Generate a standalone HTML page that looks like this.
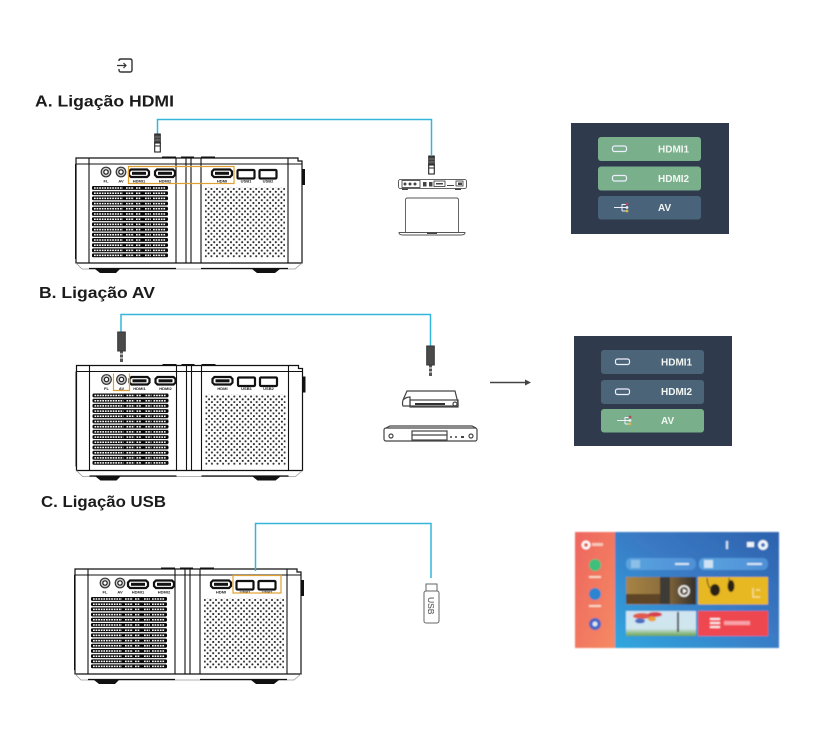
<!DOCTYPE html>
<html><head><meta charset="utf-8"><style>
html,body{margin:0;padding:0;background:#fff;width:822px;height:737px;overflow:hidden}
svg{display:block}
.h{font-family:"Liberation Sans",sans-serif;font-weight:700;font-size:16px;fill:#1b1b1b}
.b{font-family:"Liberation Sans",sans-serif;font-weight:700;font-size:10px;fill:#f2f6f3}
.p{font-family:"Liberation Sans",sans-serif;font-weight:700;font-size:4px;fill:#222;text-anchor:middle}
</style></head><body>
<svg width="822" height="737" viewBox="0 0 822 737" xmlns="http://www.w3.org/2000/svg">
<defs>
<pattern id="dots" width="5.6" height="5.6" patternUnits="userSpaceOnUse">
<circle cx="1.4" cy="1.4" r="1.05" fill="#222"/><circle cx="4.2" cy="4.2" r="1.05" fill="#333"/>
</pattern>
<g id="vent"><rect x="92" y="0" width="76" height="3.9" rx="1.2" fill="#0c0c0c"/>
<path d="M94 2H123M126 2H134M136 2H141M145 2H151M153 2H166" stroke="#fff" stroke-width="1.5" stroke-dasharray="1.7 .9" fill="none"/></g>
<g id="hd"><path d="M-8 -3.500H8L10 -1.500V2L8 4H-8L-10 2V-1.500Z" fill="#fff" stroke="#111" stroke-width="2.200"/><rect x="-7" y="-1.200" width="14" height="3" fill="#111"/></g>
<g id="us"><rect x="-8.500" y="-4" width="17" height="8.500" rx="1" fill="#fff" stroke="#111" stroke-width="2.200"/></g>
<g id="au"><circle r="4.800" fill="#ccc" stroke="#333" stroke-width="1.200"/><circle r="2.200" fill="#fff" stroke="#222" stroke-width="1.200"/></g>
<g id="proj">
<rect x="75" y="164" width="2" height="95" fill="#111"/>
<rect x="76" y="158" width="226" height="105" fill="#fff"/>
<path d="M76 158H298V161H302V263H76Z" fill="none" stroke="#111" stroke-width="1.200"/>
<path d="M76 164H302" stroke="#111" stroke-width="1"/>
<path d="M89 158V263M176 158V263M186 158V263M191 158V263M201 158V263M288 158V263" stroke="#111" stroke-width="1.100"/>
<path d="M76 263L82 269H295L302 263" fill="none" stroke="#999" stroke-width=".8"/>
<path d="M89 268.500H176M201 268.500H288" stroke="#111" stroke-width="1.300"/>
<path d="M95 269H120L116 273H100ZM252 269H280L275 273H257Z" fill="#111"/>
<rect x="162" y="156.500" width="14" height="2" fill="#111"/><rect x="181" y="156.500" width="13" height="2" fill="#111"/><rect x="201" y="156.500" width="14" height="2" fill="#111"/>
<rect x="302" y="169" width="3" height="16" fill="#111"/>
<use href="#au" x="106" y="172"/><use href="#au" x="121" y="172"/>
<use href="#hd" x="139" y="173"/><use href="#hd" x="165" y="173"/><use href="#hd" x="222" y="173"/>
<use href="#us" x="246" y="174"/><use href="#us" x="268" y="174"/>
<text class="p" x="106" y="182.500">FL</text><text class="p" x="121" y="182.500">AV</text>
<text class="p" x="139" y="182.500">HDMI1</text><text class="p" x="165" y="182.500">HDMI2</text><text class="p" x="222" y="182.500">HDMI</text>
<text class="p" x="246" y="182.500">USB1</text><text class="p" x="268" y="182.500">USB2</text>
<use href="#vent" y="186"/><use href="#vent" y="191.200"/><use href="#vent" y="196.400"/><use href="#vent" y="201.600"/><use href="#vent" y="206.800"/><use href="#vent" y="212"/><use href="#vent" y="217.200"/><use href="#vent" y="222.400"/><use href="#vent" y="227.600"/><use href="#vent" y="232.800"/><use href="#vent" y="238"/><use href="#vent" y="243.200"/><use href="#vent" y="248.400"/><use href="#vent" y="253.400"/>
<rect x="205" y="187" width="80" height="71" fill="url(#dots)"/>
</g>
<g id="jack"><rect x="-1.500" y="18" width="3" height="12" fill="#555"/><path d="M-1.500 22H1.500M-1.500 26H1.500" stroke="#fff" stroke-width="1"/><rect x="-3.800" y="0" width="7.600" height="19" fill="#4a4a4a" stroke="#333"/></g>
<g id="hc"><rect x="-2.800" y="0" width="5.600" height="9" fill="#444" stroke="#222"/><path d="M-2.800 3H2.800M-2.800 6H2.800" stroke="#888" stroke-width=".7"/><rect x="-2.800" y="9" width="5.600" height="9" fill="#fff" stroke="#222" stroke-width="1.100"/><path d="M-2.800 12H2.800" stroke="#222"/></g>
<linearGradient id="tvb" x1="0" y1="1" x2="1" y2="0"><stop offset="0" stop-color="#2ea7df"/><stop offset=".55" stop-color="#3a79c4"/><stop offset="1" stop-color="#2c62ad"/></linearGradient>
<linearGradient id="side" x1="0" y1="0" x2="1" y2="1"><stop offset="0" stop-color="#ee6560"/><stop offset="1" stop-color="#f58a62"/></linearGradient>
<linearGradient id="bar" x1="0" y1="0" x2="1" y2="0"><stop offset="0" stop-color="#5aa4df"/><stop offset="1" stop-color="#4e8fd6"/></linearGradient>
<linearGradient id="ph1" x1="0" y1="0" x2="1" y2="0"><stop offset="0" stop-color="#a78444"/><stop offset=".55" stop-color="#8b6c3c"/><stop offset="1" stop-color="#33302b"/></linearGradient>
<linearGradient id="ph3" x1="0" y1="0" x2="0" y2="1"><stop offset="0" stop-color="#cfe4f2"/><stop offset=".7" stop-color="#d0e6ee"/><stop offset="1" stop-color="#6aa34c"/></linearGradient>
<filter id="bl" x="-5%" y="-5%" width="110%" height="110%"><feGaussianBlur stdDeviation=".8"/></filter>
</defs>

<rect width="822" height="737" fill="#fff"/>

<!-- input icon -->
<path d="M119 61V60.500Q119 59 121 59H130Q132 59 132 61V70Q132 72 130 72H121Q119 72 119 70V69" fill="none" stroke="#333" stroke-width="1.400"/>
<path d="M117 65.500H126M123.500 63L126 65.500L123.500 68" fill="none" stroke="#333" stroke-width="1.200"/>

<!-- Headings -->
<text class="h" x="35" y="106.500" textLength="139" lengthAdjust="spacingAndGlyphs">A. Ligação HDMI</text>
<text class="h" x="39" y="298" textLength="116" lengthAdjust="spacingAndGlyphs">B. Ligação AV</text>
<text class="h" x="41" y="507" textLength="125" lengthAdjust="spacingAndGlyphs">C. Ligação USB</text>

<!-- Projectors -->
<use href="#proj"/>
<use href="#proj" y="207.500" x="0.500"/>
<use href="#proj" y="411" x="-1"/>

<!-- highlights -->
<rect x="128.500" y="166.500" width="105.500" height="17" fill="none" stroke="#e0a030" stroke-width="1.200"/>
<path d="M113.500 373.500V390.500H129.500V373.500" fill="none" stroke="#e0a030" stroke-width="1.200"/>
<rect x="233" y="575.500" width="48" height="17.500" fill="none" stroke="#e0a030" stroke-width="1.200"/>

<!-- A cable -->
<path d="M157.500 135V119.500H431.500V155" fill="none" stroke="#35b5dc" stroke-width="1.500"/>
<use href="#hc" x="157.500" y="134"/>
<use href="#hc" x="431.500" y="156"/>
<!-- B cable -->
<path d="M121 333V314.500H430.500V346" fill="none" stroke="#35b5dc" stroke-width="1.500"/>
<use href="#jack" x="121.500" y="332"/>
<use href="#jack" x="430.500" y="346"/>
<!-- C cable -->
<path d="M255.500 571V523.500H431V578" fill="none" stroke="#35b5dc" stroke-width="1.500"/>

<!-- Box with ports -->
<g fill="none" stroke="#333" stroke-width=".8">
<rect x="398.500" y="179.500" width="68" height="9" rx="2"/>
<rect x="402" y="180.500" width="18" height="7"/>
<rect x="434" y="181" width="11" height="5.500"/>
<rect x="456" y="181" width="7" height="5"/>
</g>
<g fill="#444"><circle cx="405" cy="184" r="1.500"/><circle cx="410" cy="184" r="1.500"/><circle cx="415" cy="184" r="1.500"/><rect x="423" y="182" width="3.500" height="4.500"/><rect x="429" y="182" width="3.500" height="4.500"/><rect x="436" y="183" width="7" height="1.500"/><rect x="447" y="185" width="7" height="1"/><rect x="458" y="182.500" width="4" height="2.500"/><rect x="402" y="188.500" width="6" height="1.500"/><rect x="455" y="188.500" width="6" height="1.500"/></g>
<!-- Laptop -->
<path d="M405.500 233V200Q405.500 198 407.500 198H456.500Q458.500 198 458.500 200V233" fill="none" stroke="#555" stroke-width=".9"/>
<path d="M399 232.500H465Q465 235 461 235H403Q399 235 399 232.500Z" fill="#fff" stroke="#555" stroke-width=".9"/>
<rect x="427" y="232.500" width="10" height="1.500" fill="#444"/>

<!-- DVD devices -->
<g fill="none" stroke="#444" stroke-width="1.200">
<path d="M403 400L407 391H455L458 403V406H410V397Q406 397 403 400Q402 404 403 406H410"/>
<rect x="410" y="400" width="48" height="7"/>
<circle cx="455" cy="404" r="2"/>
<rect x="384" y="428" width="93" height="13" rx="2"/>
<rect x="412" y="431" width="35" height="9"/>
<path d="M412 435H447M386 428L390 426H472L476 428"/>
<circle cx="391" cy="436" r="2"/><circle cx="471" cy="436" r="2"/>
</g>
<rect x="415" y="403" width="30" height="2" fill="#333"/>
<g fill="#444"><circle cx="451" cy="437" r="1"/><circle cx="456" cy="437" r="1"/><rect x="461" y="436" width="3" height="2"/></g>
<!-- Arrow -->
<path d="M490 382.500H526" stroke="#444" stroke-width="1.500"/>
<path d="M525 379.500L531 382.500L525 385.500Z" fill="#444"/>

<!-- USB stick -->
<rect x="426" y="584" width="11" height="8" fill="#fff" stroke="#666"/>
<rect x="424" y="591" width="15" height="32" rx="2" fill="#fff" stroke="#666"/>
<text x="0" y="0" transform="translate(428 597) rotate(90)" font-family="Liberation Sans,sans-serif" font-size="8.500" fill="#444">USB</text>

<!-- Panel A -->
<rect x="571" y="123" width="158" height="111" fill="#2f3b4c"/>
<rect x="598" y="137" width="103" height="24" rx="3" fill="#7aaf8b"/>
<rect x="598" y="166.500" width="103" height="24" rx="3" fill="#7aaf8b"/>
<rect x="598" y="196" width="103" height="23.500" rx="3" fill="#48637a"/>
<g fill="none" stroke="#eef" stroke-width="1.200"><rect x="612.500" y="146" width="14" height="5.500" rx="2"/><rect x="612.500" y="175.500" width="14" height="5.500" rx="2"/><path d="M614 207.500H622M622 204V211M622 204.500H626M622 207.500H626M622 211H626" stroke-width="1"/></g>
<text class="b" x="658" y="152.500">HDMI1</text><text class="b" x="658" y="182">HDMI2</text><text class="b" x="658" y="211">AV</text>
<circle cx="627" cy="204" r="1.400" fill="#b34a60"/><circle cx="627" cy="207.500" r="1.400" fill="#eee"/><circle cx="627" cy="211" r="1.400" fill="#d8b840"/>

<!-- Panel B -->
<rect x="574" y="336" width="158" height="110" fill="#2f3b4c"/>
<rect x="601" y="350" width="103" height="24" rx="3" fill="#4c6478"/>
<rect x="601" y="380" width="103" height="24" rx="3" fill="#4c6478"/>
<rect x="601" y="409" width="103" height="23.500" rx="3" fill="#7aaf8b"/>
<g fill="none" stroke="#eef" stroke-width="1.200"><rect x="615.500" y="359" width="14" height="5.500" rx="2"/><rect x="615.500" y="389" width="14" height="5.500" rx="2"/><path d="M617 420.500H625M625 417V424M625 417.500H629M625 420.500H629M625 424H629" stroke-width="1"/></g>
<text class="b" x="661" y="365.500">HDMI1</text><text class="b" x="661" y="395">HDMI2</text><text class="b" x="661" y="424">AV</text>
<circle cx="630" cy="417" r="1.400" fill="#b34a60"/><circle cx="630" cy="420.500" r="1.400" fill="#eee"/><circle cx="630" cy="424" r="1.400" fill="#d8b840"/>

<!-- Smart TV -->
<g filter="url(#bl)">
<rect x="615" y="532" width="164" height="116" fill="url(#tvb)"/>
<rect x="575" y="532" width="40" height="116" fill="url(#side)"/>
<circle cx="586" cy="545" r="4.500" fill="#fff"/><circle cx="586" cy="545" r="2" fill="#e06050"/>
<rect x="592" y="543" width="11" height="3" fill="#f7c6b8"/>
<circle cx="595" cy="565" r="6" fill="#3fbf7c"/><rect x="589" y="576" width="12" height="2" fill="#f8d8c8"/>
<circle cx="595" cy="594" r="6" fill="#2b84cf"/><rect x="589" y="605" width="12" height="2" fill="#f8d8c8"/>
<circle cx="595" cy="624" r="6" fill="#4a66c4"/><circle cx="595" cy="624" r="2.500" fill="#dfe8f8"/>
<rect x="726" y="541" width="2" height="8" fill="#d6e6f6"/><rect x="747" y="542" width="7" height="5" fill="#eef6fc"/>
<circle cx="763" cy="545" r="5" fill="#f2f8fc"/><circle cx="763" cy="545" r="2" fill="#3b76be"/>
<rect x="626" y="558" width="70" height="12" rx="5" fill="url(#bar)"/><rect x="699" y="558" width="69" height="12" rx="5" fill="url(#bar)"/>
<rect x="631" y="560" width="9" height="8" fill="#8cc0e8"/><rect x="704" y="560" width="9" height="8" fill="#cfe2f4"/>
<rect x="675" y="563" width="14" height="2" fill="#d8e8f8"/><rect x="747" y="563" width="15" height="2" fill="#d8e8f8"/>
<rect x="626" y="577" width="70" height="27.500" fill="url(#ph1)"/>
<rect x="626" y="594" width="40" height="10" fill="#5e4426"/><rect x="660" y="577" width="10" height="27" fill="#3e3a34"/>
<circle cx="684" cy="591" r="5" fill="none" stroke="#fff" stroke-width="1.500"/><path d="M683 588.500L687 591L683 593.500Z" fill="#fff"/>
<rect x="698" y="577" width="70" height="27.500" fill="#e8b820"/>
<ellipse cx="715" cy="590" rx="5" ry="6" fill="#2c2418"/><ellipse cx="731" cy="586" rx="3.500" ry="6" fill="#2c2418"/>
<path d="M707 578Q708 590 713 588M729 578V582" stroke="#3a3020" fill="none"/>
<path d="M753 588V597H760M760 590H756" stroke="#f6e4a0" fill="none" stroke-width="1.200"/>
<rect x="626" y="611" width="70" height="25" fill="url(#ph3)"/>
<ellipse cx="642" cy="616" rx="9" ry="3" fill="#e05a50"/><ellipse cx="655" cy="614.500" rx="7" ry="2.500" fill="#d84050"/><ellipse cx="640" cy="621" rx="5" ry="2.500" fill="#4a6ec4"/><ellipse cx="652" cy="619" rx="4" ry="2.500" fill="#e8a030"/>
<rect x="677" y="612" width="2" height="20" fill="#4a4a50"/>
<rect x="698" y="611" width="70" height="25" fill="#ef4650"/>
<path d="M710 619H720M710 623H720M710 627H720" stroke="#fdeaea" stroke-width="2"/>
<rect x="724" y="621" width="26" height="4" fill="#f8a0a8"/>
</g>
</svg>
</body></html>
